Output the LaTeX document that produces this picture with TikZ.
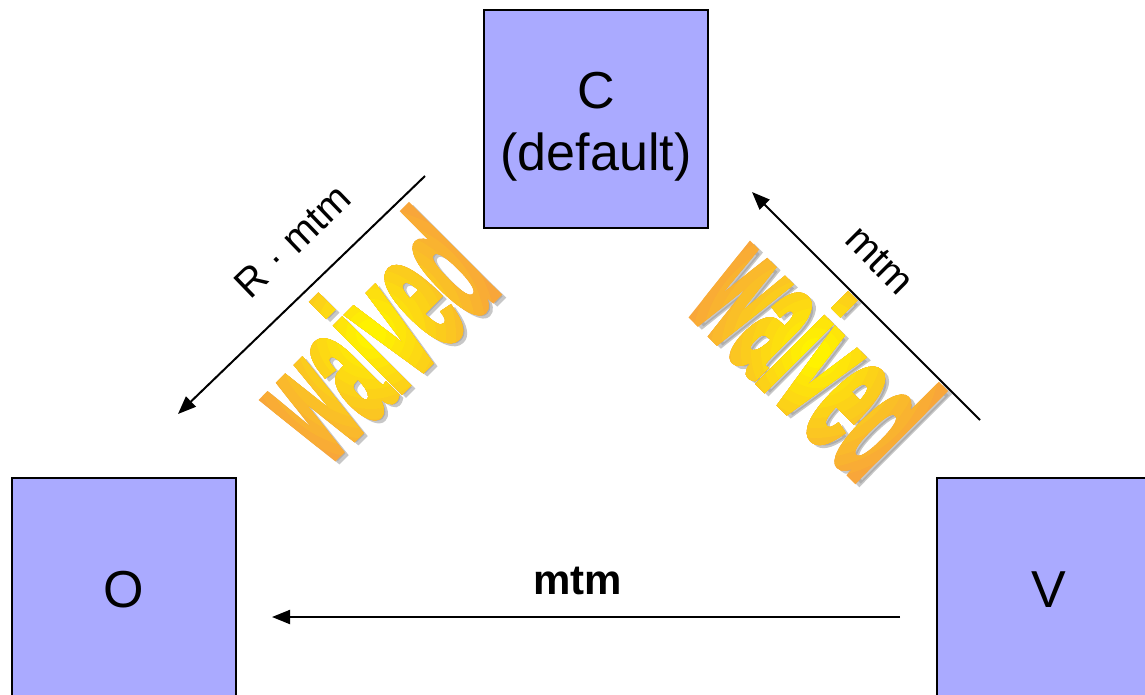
\documentclass[tikz,border=0pt]{standalone}
\usepackage{fontspec}
\setmainfont{Liberation Sans}
\newfontfamily\wfont[FakeBold=4]{Liberation Sans Bold}
\usetikzlibrary{arrows.meta}
\definecolor{boxblue}{RGB}{170,170,255}
\definecolor{wyellow}{RGB}{255,242,0}
\definecolor{worange}{RGB}{248,166,58}
\newcommand{\wtext}{\wfont\fontsize{80}{80}\selectfont\scalebox{0.93}[2.15]{waived}}
\newcommand{\waivedart}[4]{%
  \node[wart, text=black!40, opacity=0.55, rotate=#3] (#4s) at (#1+4,#2+3) {\wtext};
  \node[wart, text=worange, rotate=#3] (#4o) at (#1,#2) {\wtext};
  \foreach \k in {1,...,12}{%
    \pgfmathsetmacro\rr{135-\k*10}%
    \pgfmathsetmacro\pp{\k*100/12}%
    \begin{scope}
      \clip (#1,#2) circle (\rr);
      \node[wart, text=wyellow!\pp!worange, rotate=#3] (#4\k) at (#1,#2) {\wtext};
    \end{scope}}%
}
\begin{document}
\begin{tikzpicture}[x=1pt,y=-1pt,
  box/.style={draw=black, line width=1.3pt, fill=boxblue, minimum width=224pt, minimum height=218pt, inner sep=0pt},
  bigtxt/.style={font=\fontsize{52}{62}\selectfont, inner sep=0pt, align=center},
  conn/.style={line width=2pt, -{Triangle[length=18pt,width=14pt]}},
  lbl/.style={font=\fontsize{40}{40}\selectfont, inner sep=0pt, sloped},
  wart/.style={inner sep=0pt}]
\useasboundingbox (0,0) rectangle (1145,694);
\clip (0,0) rectangle (1145,694);
\fill[white] (0,0) rectangle (1145,694);

% boxes
\node[box] (C) at (596,119) {};
\node[bigtxt] (Ct) at (596,127) {C\\(default)};
\node[box, minimum height=224pt] (O) at (124,590) {};
\node[bigtxt] (Ot) at (O.center) {O};
\node[box, minimum height=224pt] (V) at (1049,590) {};
\node[bigtxt] (Vt) at (V.center) {V};

% waived word art
\waivedart{371}{334}{45}{wL}
\waivedart{816}{353}{-45}{wR}

% connectors
\coordinate (cl1) at (425,176); \coordinate (cl2) at (178,414);
\coordinate (cr1) at (980,420); \coordinate (cr2) at (752,192);
\coordinate (b1) at (900,617);  \coordinate (b2) at (272,617);
\draw[conn] (cl1) -- node[lbl, pos=0.41, above=30pt] (lR) {R · mtm} (cl2);
\draw[conn] (cr1) -- node[lbl, pos=0.57, above=28pt] (lV) {mtm} (cr2);
\draw[conn] (b1) -- node[pos=0.513, above=21pt, inner sep=0pt, font=\fontsize{42}{42}\selectfont\bfseries] (lB) {mtm} (b2);
\end{tikzpicture}
\end{document}
